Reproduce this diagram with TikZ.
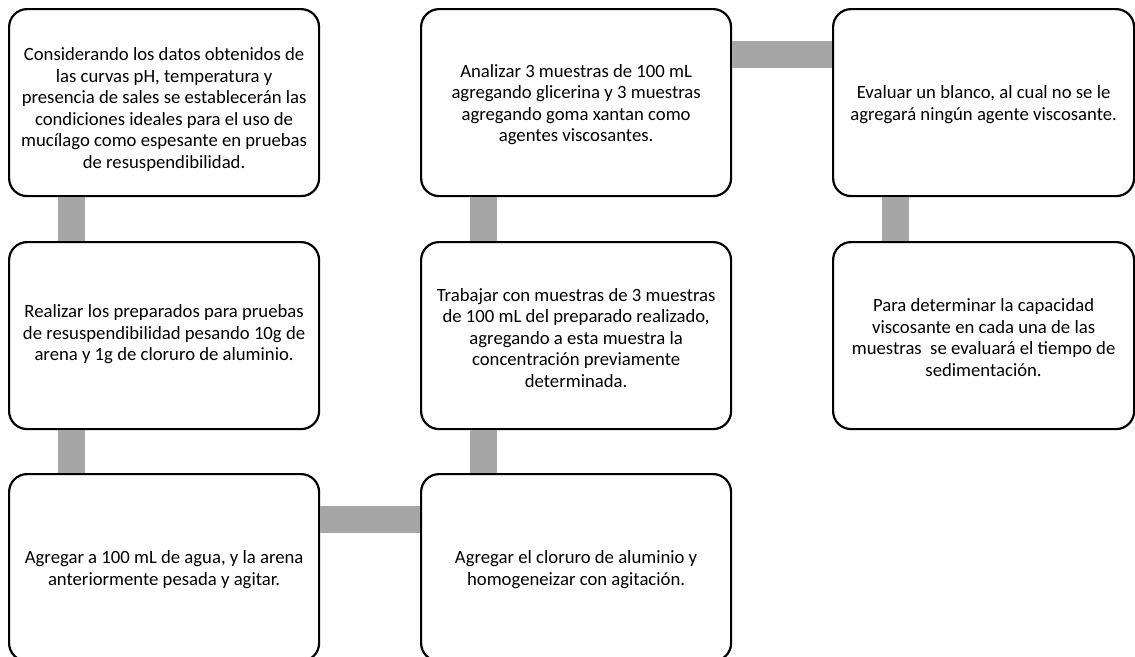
\documentclass[tikz,border=0pt]{standalone}
\usepackage{fontspec}
\setmainfont{Carlito}
\usetikzlibrary{calc}
\tikzset{
  stepbox/.style={draw=black, line width=2.2pt, fill=white, rounded corners=18pt,
    minimum height=187pt, inner sep=0pt, anchor=north west},
  wide/.style={minimum width=310pt},
  narrow/.style={minimum width=301pt},
  steptext/.style={align=center, inner sep=0pt, font=\fontsize{18.7pt}{21.5pt}\selectfont},
  bar/.style={draw=black!35, line width=27pt}
}
\begin{document}
\begin{tikzpicture}[x=1pt,y=-1pt]
\useasboundingbox (0,0) rectangle (1135,656);
\clip (0,0) rectangle (1135,656);
\node[stepbox,wide] (a1) at (8,8) {};
\node[stepbox,wide] (a2) at (8,241) {};
\node[stepbox,wide] (a3) at (8,473) {};
\node[stepbox,wide] (b3) at (420,473) {};
\node[stepbox,wide] (b2) at (420,241) {};
\node[stepbox,wide] (b1) at (420,8) {};
\node[stepbox,narrow] (c1) at (832,8) {};
\node[stepbox,narrow] (c2) at (832,241) {};
\node[steptext] (ta1) at ($(a1.center)+(0,7)$) {Considerando los datos obtenidos de\\las curvas pH, temperatura y\\presencia de sales se establecerán las\\condiciones ideales para el uso de\\mucílago como espesante en pruebas\\de resuspendibilidad.};
\node[steptext] (ta2) at ($(a2.center)+(0,-1)$) {Realizar los preparados para pruebas\\de resuspendibilidad pesando 10g de\\arena y 1g de cloruro de aluminio.};
\node[steptext] (ta3) at ($(a3.center)+(0,2)$) {Agregar a 100 mL de agua, y la arena\\anteriormente pesada y agitar.};
\node[steptext] (tb3) at ($(b3.center)+(0,2)$) {Agregar el cloruro de aluminio y\\homogeneizar con agitación.};
\node[steptext] (tb2) at ($(b2.center)+(0,2)$) {Trabajar con muestras de 3 muestras\\de 100 mL del preparado realizado,\\agregando a esta muestra la\\concentración previamente\\determinada.};
\node[steptext] (tb1) at ($(b1.center)+(0,2)$) {Analizar 3 muestras de 100 mL\\agregando glicerina y 3 muestras\\agregando goma xantan como\\agentes viscosantes.};
\node[steptext] (tc1) at ($(c1.center)+(0,2)$) {Evaluar un blanco, al cual no se le\\agregará ningún agente viscosante.};
\node[steptext] (tc2) at ($(c2.center)+(0,2)$) {Para determinar la capacidad\\viscosante en cada una de las\\muestras\ \ se evaluará el tiempo de\\sedimentación.};
\draw[bar] ($(a1.south west)+(63,0)$) -- ($(a2.north west)+(63,0)$);
\draw[bar] ($(a2.south west)+(63,0)$) -- ($(a3.north west)+(63,0)$);
\draw[bar] ($(a3.north east)+(0,46.5)$) -- ($(b3.north west)+(0,46.5)$);
\draw[bar] ($(b3.north west)+(63,0)$) -- ($(b2.south west)+(63,0)$);
\draw[bar] ($(b2.north west)+(63,0)$) -- ($(b1.south west)+(63,0)$);
\draw[bar] ($(b1.north east)+(0,46.5)$) -- ($(c1.north west)+(0,46.5)$);
\draw[bar] ($(c1.south west)+(63,0)$) -- ($(c2.north west)+(63,0)$);
\end{tikzpicture}
\end{document}
